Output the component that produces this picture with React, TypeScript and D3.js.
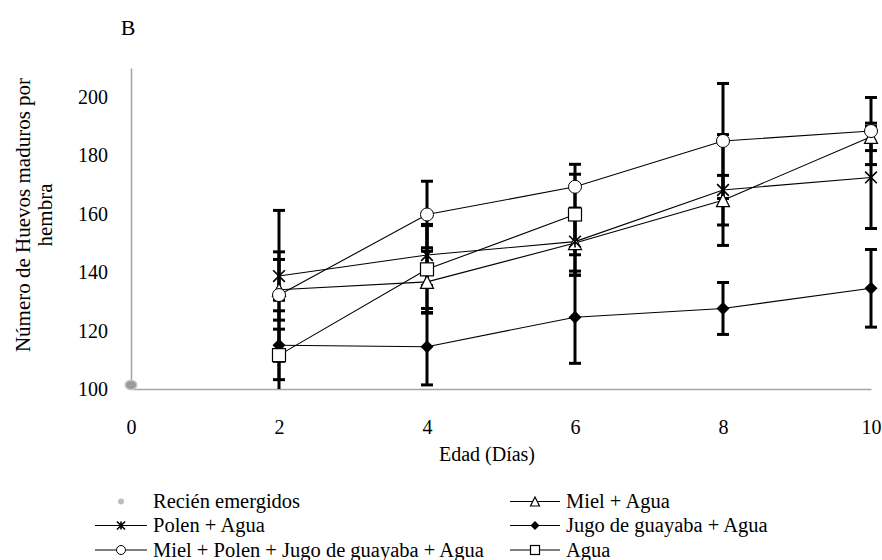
import React, { useRef, useEffect } from 'react';
import * as d3 from 'd3';

// x axis (days) and y axis ticks
const dayTicks = [0, 2, 4, 6, 8, 10];
const yTicks = [100, 120, 140, 160, 180, 200];

// series
const recienDays = [0];
const recienValues = [101.4];

const polenDays = [2, 4, 6, 8, 10];
const polenValues = [138.7, 145.9, 150.5, 168.2, 172.5];
const polenErr = [8.3, 10.5, 11.5, 19, 17.5];

const mpjDays = [2, 4, 6, 8, 10];
const mpjValues = [132.2, 159.8, 169.3, 185.0, 188.4];
const mpjErr = [29, 11.4, 7.7, 19.7, 11.5];

const mielDays = [2, 4, 6, 8, 10];
const mielValues = [134, 136.7, 150.0, 164.7, 186.4];
const mielErr = [10.4, 10.5, 11, 8.5, 4.7];

const jugoDays = [2, 4, 6, 8, 10];
const jugoValues = [115, 114.5, 124.6, 127.6, 134.5];
const jugoErr = [5.5, 13.1, 15.8, 8.9, 13.3];

const aguaDays = [2, 4, 6];
const aguaValues = [111.6, 141, 159.8];
const aguaErr = [15.2, 15, 13.8];

type Marker = 'dot' | 'star' | 'circle' | 'triangle' | 'diamond' | 'square';

// drawing order as in the original (Agua last, on top)
const series = [
    { name: 'Recién emergidos', days: recienDays, values: recienValues, err: null as number[] | null, marker: 'dot' as Marker },
    { name: 'Miel + Agua', days: mielDays, values: mielValues, err: mielErr, marker: 'triangle' as Marker },
    { name: 'Polen + Agua', days: polenDays, values: polenValues, err: polenErr, marker: 'star' as Marker },
    { name: 'Jugo de guayaba + Agua', days: jugoDays, values: jugoValues, err: jugoErr, marker: 'diamond' as Marker },
    { name: 'Miel + Polen + Jugo de guayaba + Agua', days: mpjDays, values: mpjValues, err: mpjErr, marker: 'circle' as Marker },
    { name: 'Agua', days: aguaDays, values: aguaValues, err: aguaErr, marker: 'square' as Marker },
];

// legend layout, row by row
const legendLeft = ['Recién emergidos', 'Polen + Agua', 'Miel + Polen + Jugo de guayaba + Agua'];
const legendRight = ['Miel + Agua', 'Jugo de guayaba + Agua', 'Agua'];

const W = 882;
const H = 560;
const FONT = "'Liberation Serif', 'DejaVu Serif', serif";

function drawMarker(g: any, kind: Marker, cx: number, cy: number, s: number) {
    if (kind === 'dot') {
        g.append('ellipse')
            .attr('cx', cx).attr('cy', cy)
            .attr('rx', s * 0.45).attr('ry', s * 0.36)
            .attr('fill', '#9a9a9a').attr('stroke', '#c8c8c8').attr('stroke-width', 1.5);
    } else if (kind === 'circle') {
        g.append('circle').attr('cx', cx).attr('cy', cy).attr('r', s / 2)
            .attr('fill', '#fff').attr('stroke', '#000').attr('stroke-width', 1);
    } else if (kind === 'square') {
        g.append('rect').attr('x', cx - s / 2).attr('y', cy - s / 2).attr('width', s).attr('height', s)
            .attr('fill', '#fff').attr('stroke', '#000').attr('stroke-width', 1.2);
    } else if (kind === 'triangle') {
        const h = s * 0.5;
        g.append('path')
            .attr('d', `M${cx},${cy - h}L${cx + h},${cy + h}L${cx - h},${cy + h}Z`)
            .attr('fill', '#fff').attr('stroke', '#000').attr('stroke-width', 1.2);
    } else if (kind === 'diamond') {
        const h = s * 0.5;
        g.append('path')
            .attr('d', `M${cx},${cy - h}L${cx + h},${cy}L${cx},${cy + h}L${cx - h},${cy}Z`)
            .attr('fill', '#000');
    } else if (kind === 'star') {
        const h = s * 0.45;
        g.append('path')
            .attr('d', `M${cx - h},${cy - h}L${cx + h},${cy + h}M${cx - h},${cy + h}L${cx + h},${cy - h}M${cx},${cy - h}L${cx},${cy + h}`)
            .attr('stroke', '#000').attr('stroke-width', 1.6).attr('fill', 'none');
    }
}

export default function App() {
    const svgRef = useRef<SVGSVGElement | null>(null);

    useEffect(() => {
        const svg = d3.select(svgRef.current);
        svg.selectAll('*').remove();

        const x = d3.scaleLinear().domain([0, 10]).range([131, 871]);
        const y = d3.scaleLinear().domain([100, 210]).range([389, 68]);

        // title
        svg.append('text').attr('x', 128).attr('y', 35).attr('text-anchor', 'middle')
            .style('font-family', FONT).style('font-size', '22px').text('B');

        // axes
        const yAxis = svg.append('g').attr('transform', 'translate(131,0)')
            .call(d3.axisLeft(y).tickValues(yTicks).tickSize(0).tickSizeOuter(0).tickPadding(23));
        const xAxis = svg.append('g').attr('transform', 'translate(0,389)')
            .call(d3.axisBottom(x).tickValues(dayTicks).tickSize(0).tickSizeOuter(0).tickPadding(31));
        [yAxis, xAxis].forEach((a) => {
            a.attr('font-family', null).attr('font-size', null);
            a.select('.domain').attr('stroke', '#a6a6a6').attr('stroke-width', 1.6);
            a.selectAll('text').style('font-family', FONT).style('font-size', '20px').attr('fill', '#000');
        });

        // axis titles
        const yTitle = ['Número de Huevos maduros por', 'hembra'];
        yTitle.forEach((t, i) => {
            svg.append('text')
                .attr('transform', `translate(${23 + i * 22},215) rotate(-90)`)
                .attr('text-anchor', 'middle').attr('dy', '0.35em')
                .style('font-family', FONT).style('font-size', '21px').text(t);
        });
        svg.append('text').attr('x', 487).attr('y', 461).attr('text-anchor', 'middle')
            .style('font-family', FONT).style('font-size', '20px').text('Edad (Días)');

        const plot = svg.append('g');
        const line = d3.line<[number, number]>().x((d) => x(d[0])).y((d) => y(d[1]));

        // lines
        series.forEach((s) => {
            if (s.days.length < 2) return;
            plot.append('path')
                .attr('d', line(s.days.map((d, i) => [d, s.values[i]] as [number, number])))
                .attr('fill', 'none').attr('stroke', '#000').attr('stroke-width', 1.1);
        });

        // error bars (clipped at the x axis)
        series.forEach((s) => {
            if (!s.err) return;
            s.days.forEach((d, i) => {
                const e = s.err![i];
                const top = y(s.values[i] + e);
                const bot = y(Math.max(100, s.values[i] - e));
                const cx = x(d);
                plot.append('line').attr('x1', cx).attr('x2', cx).attr('y1', top).attr('y2', bot)
                    .attr('stroke', '#000').attr('stroke-width', 3);
                const caps = [top];
                if (s.values[i] - e >= 100) caps.push(bot);
                caps.forEach((cy) => {
                    plot.append('line').attr('x1', cx - 6).attr('x2', cx + 6).attr('y1', cy).attr('y2', cy)
                        .attr('stroke', '#000').attr('stroke-width', 3);
                });
            });
        });

        // markers
        series.forEach((s) => {
            s.days.forEach((d, i) => {
                drawMarker(plot, s.marker, x(d), y(s.values[i]), 13);
            });
        });

        // legend
        const legend = svg.append('g');
        const rowY = [501.5, 525.5, 550];
        const cols = [
            { names: legendLeft, x0: 95, x1: 147, tx: 153 },
            { names: legendRight, x0: 510, x1: 560, tx: 566 },
        ];
        cols.forEach((c) => {
            c.names.forEach((n, r) => {
                const s = series.find((q) => q.name === n)!;
                const cy = rowY[r];
                const mx = (c.x0 + c.x1) / 2;
                if (s.marker !== 'dot') {
                    legend.append('line').attr('x1', c.x0).attr('x2', c.x1).attr('y1', cy).attr('y2', cy)
                        .attr('stroke', '#000').attr('stroke-width', 1.1);
                    drawMarker(legend, s.marker, mx, cy, 9);
                } else {
                    legend.append('circle').attr('cx', mx).attr('cy', cy).attr('r', 3).attr('fill', '#bdbdbd');
                }
                legend.append('text').attr('x', c.tx).attr('y', cy).attr('dy', '0.33em')
                    .style('font-family', FONT).style('font-size', '20.5px').text(n);
            });
        });
    }, []);

    return (
        <svg
            ref={svgRef}
            width={W}
            height={H}
            style={{ position: 'absolute', left: 0, top: 0, background: '#fff' }}
        />
    );
}
